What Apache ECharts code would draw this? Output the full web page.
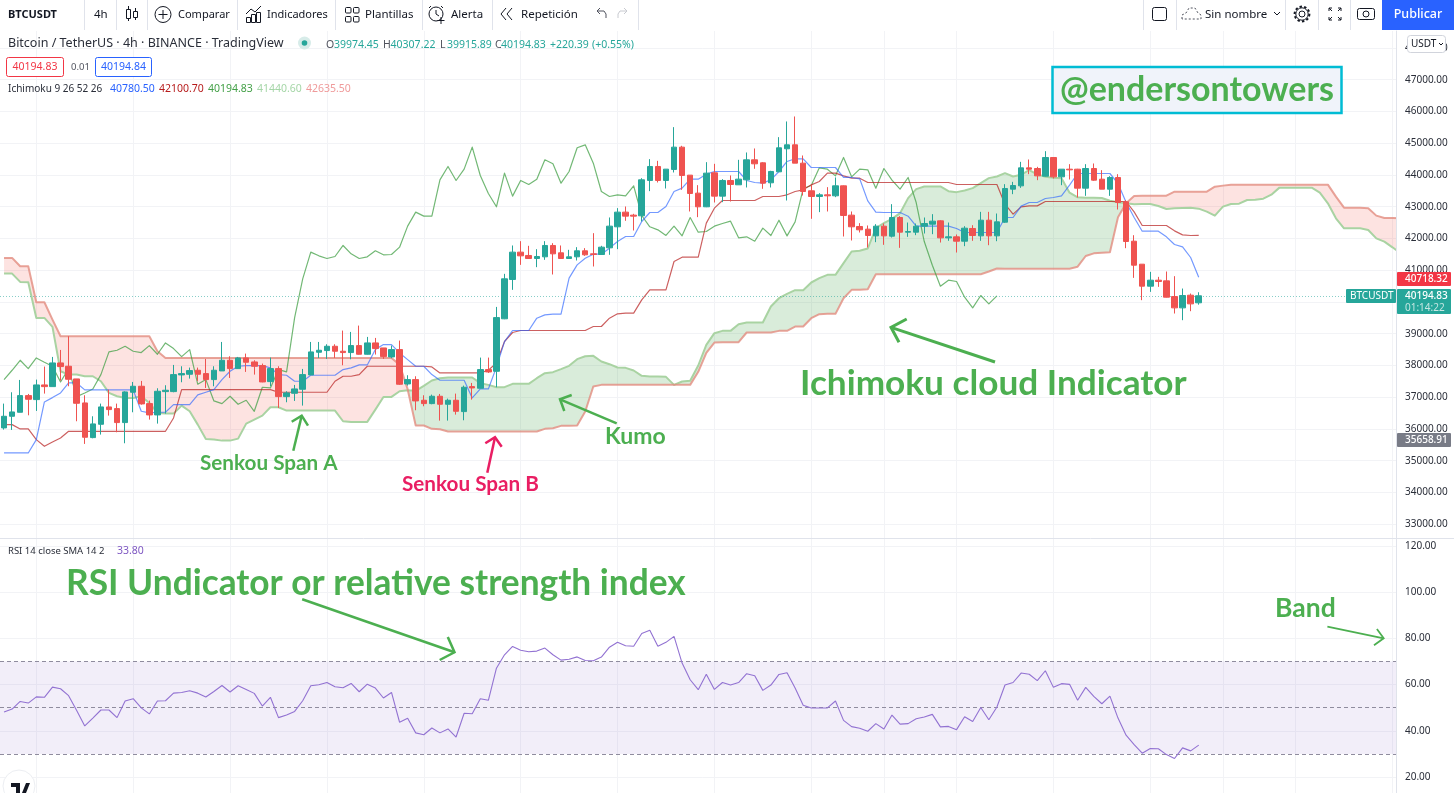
<!DOCTYPE html>
<html><head><meta charset="utf-8">
<style>html,body{margin:0;padding:0;background:#fff}#c{width:1454px;height:793px}</style>
<script src="https://cdn.jsdelivr.net/npm/echarts@6/dist/echarts.min.js"></script>
</head><body><div id="c"></div>
<script>
const opens=[36034,36401,36527,37052,36926,37388,37335,38081,37976,37577,
36821,35729,36149,36695,36642,36202,37157,37346,36800,36443,
37178,37178,37703,37724,37850,37745,37556,37829,38165,37902,
38238,38112,37997,37493,37902,37020,37125,37251,37703,38417,
38470,38606,38449,38407,38627,38354,38711,38553,38270,38501,
37419,37556,36905,36800,37031,36779,36905,36548,37335,37283,
37871,37818,39470,40709,41570,41465,41370,41423,41780,41549,
41370,41423,41612,41517,41496,41706,42368,42830,42735,42714,
43827,44268,43827,44174,44877,43995,43428,42998,44069,43334,
43827,43691,43848,44478,44384,43754,44100,44825,44950,44373,
43502,43323,43375,43344,43659,42735,42378,42294,42083,42388,
42073,42661,42199,42199,42388,42451,42556,42020,42052,41915,
42315,42083,42577,42083,42514,43553,43658,44225,44204,43963,
44551,43942,44183,44183,43585,44204,43868,43553,43921,43154,
41915,41191,40498,40687,40666,40172,39815,40214,39974.45];
const closes=[36401,36537,37052,36936,37388,37335,38081,37966,37566,36810,
35740,36160,36695,36611,36202,37168,37346,36790,36443,37188,
37220,37713,37745,37840,37724,37556,37850,38165,37902,38238,
38102,37976,37482,37902,37020,37136,37262,37713,38428,38480,
38606,38449,38407,38627,38354,38711,38533,38280,38501,37409,
37556,36884,36800,37031,36779,36905,36558,37315,37293,37871,
37797,39509,40730,41570,41454,41370,41433,41780,41517,41370,
41423,41612,41486,41496,41727,42389,42830,42704,42704,43848,
44268,43827,44184,44877,43985,43418,42998,44058,43334,43827,
43701,43869,44478,44352,43743,44111,44856,44950,44373,43480,
43323,43375,43344,43659,42725,42368,42273,42095,42388,42083,
42661,42199,42220,42388,42472,42546,42020,42052,41915,42325,
42094,42577,42083,42524,43574,43669,44225,44183,43973,44551,
43942,44183,44162,43585,44204,43837,43553,43921,43133,41905,
41159,40498,40687,40645,40151,39815,40204,39941,40194.83];
const highs=[36800,37157,37545,37104,37556,37966,38270,38490,38921,37577,
37062,36401,36800,37241,36800,37188,37482,37514,36895,37283,
37378,38018,37976,37934,37934,38207,37976,38742,38291,38270,
38375,38165,38060,38249,37976,37188,37388,37892,38742,38742,
38669,38669,39100,39057,39257,38900,38868,38553,38627,38785,
37693,37661,37062,37083,37104,36957,37115,37367,37451,38249,
38249,39845,40887,41780,41916,41769,41664,41916,41853,41780,
41643,41727,41696,42168,41769,42662,42956,43008,42777,43900,
44499,44446,44184,45507,44919,43995,43680,44404,44352,43869,
43985,44478,44709,44835,44404,44132,45192,45686,45843,44614,
43691,43428,43617,43922,43670,42851,42483,42410,42451,42472,
43081,42703,42503,42472,42661,42766,42577,42503,42126,42388,
42419,42839,42839,42787,43711,43784,44414,44488,44257,44750,
44551,44183,44341,44194,44341,44362,44152,43963,44026,43207,
42104,41191,40949,40792,40960,40813,40424,40267,40307.22];
const lows=[35981,35970,36527,36432,36569,37115,37335,37525,37346,36244,
35530,35708,35824,36422,35897,35551,36527,36768,36296,36170,
36485,37157,37472,37588,37514,37293,37346,37829,37608,37892,
37798,37713,37472,37346,36663,36842,36884,36737,37703,38238,
38207,38238,38007,38196,38344,38344,38344,38207,38228,37388,
37367,36590,36716,36779,36264,36264,36453,36275,36926,37283,
37766,37315,39459,40383,41170,41360,41097,41328,40866,41360,
41360,41307,41454,41118,41486,41486,41664,42557,42252,42536,
43491,43764,43575,44079,43533,42851,42672,42987,43134,43145,
43165,43691,43607,44195,43565,43607,44100,43197,44373,43354,
42620,42830,42851,43302,42063,41937,42189,41717,41884,41800,
42031,41705,42052,42105,42157,42136,41873,41926,41558,41758,
41926,41926,41789,41915,42493,43396,43595,44026,43837,43952,
43889,43679,43858,43291,43343,43816,43553,43343,42913,41695,
40760,40057,40319,40477,40141,39637,39427,39710,39915.89];
const tenkan=[35246,35246,35246,35246,35666,36853,36989,37136,37451,37451,
37231,37231,37231,37231,37231,37231,37231,36558,36506,36527,
36527,36768,36768,36768,37073,37157,37241,37556,37818,37976,
37997,37997,37997,37924,37714,37693,37504,37504,37693,37693,
37693,37693,37871,37924,38018,38018,38501,38659,38659,38396,
38186,37976,37976,37714,37535,37535,37535,37535,36978,37262,
37262,37950,38750,39102,39102,39102,39490,39596,39617,39617,
40750,41170,41380,41506,41506,41696,41906,42063,42063,42536,
42819,42819,43008,43480,43586,43869,43869,44026,44110,44110,
44110,44110,43827,43764,43743,43848,44110,44425,44510,44510,
44236,44236,44236,44236,43922,43922,43880,43186,42830,42818,
42818,42818,42703,42388,42388,42388,42388,42388,42314,42188,
42188,42188,42188,42188,42661,42661,43018,43133,43133,43259,
43291,43343,43679,44047,44047,44047,44047,44047,43732,43144,
42661,42230,42230,42230,42052,41810,41737,41401,40780.5];
const kijun=[36138,36138,36002,36002,35666,35456,35592,35718,35928,35928,
35928,35928,35928,35928,35928,35928,35928,35928,35928,35928,
35928,36348,37241,37241,37241,37241,37241,37241,37241,37241,
37241,37241,37241,37241,37157,37157,37157,37157,37157,37157,
37157,37504,37661,37661,37714,37976,37976,37976,37976,37976,
37976,37976,37976,37955,37766,37766,37766,37766,37766,37766,
37850,38081,38755,39039,39102,39102,39102,39102,39102,39102,
39102,39102,39102,39228,39228,39490,39627,39648,39648,40068,
40383,40383,40383,41276,41412,41412,41412,42483,42955,43197,
43197,43197,43197,43197,43323,43323,43323,43376,43480,43533,
43690,43795,44058,44058,43974,43900,43900,43764,43764,43764,
43764,43764,43764,43764,43764,43764,43764,43764,43700,43700,
43700,43700,43700,43700,43081,42766,42997,43028,43028,43165,
43165,43165,43165,43165,43165,43165,43165,43165,43165,43165,
42839,42409,42409,42409,42409,42241,42115,42094,42100.7];
const spanA=[40895,40895,40632,40622,39498,39498,39215,37818,37714,37714,
37661,37661,37504,37136,37031,36978,36978,37031,36821,36506,
36485,36485,36737,36558,36138,35687,35666,35634,35634,35697,
36170,36296,36422,36685,36685,36579,36579,36579,36579,36579,
36579,36579,36244,36223,36223,36223,36611,37010,37010,37188,
37220,37201,37359,37527,37600,37621,37621,37621,37621,37443,
37390,37317,37317,37422,37422,37422,37600,37758,37790,37884,
37989,38199,38293,38304,38126,38041,37936,37926,37842,37674,
37653,37653,37642,37390,37496,37517,38000,38650,39018,39091,
39091,39301,39354,39354,39354,39858,40120,40257,40373,40373,
40614,40751,40856,40856,41223,41591,41612,41685,42325,42483,
42620,42798,43271,43554,43638,43638,43638,43491,43460,43512,
43586,43743,43901,43953,44058,43953,44006,44157,44020,43947,
43915,43894,43443,43296,43286,43286,43275,43191,43139,43107,
43076,43086,43086,43023,42929,42950,42960,42971,42939,42845,
42720,43003,43087,43098,43213,43223,43255,43381,43602,43602,
43602,43602,43602,43444,43108,42635,42320,42320,42320,42268,
42005,41900,41722,41533];
const spanB=[41388,41388,41126,41126,39992,39992,39446,38921,38921,38921,
38921,38921,38921,38921,38921,38921,38921,38921,38921,38448,
38238,38238,38238,38238,38238,38238,38238,38238,38238,38238,
38238,38238,38238,38238,38238,38238,38238,38238,38238,38238,
38238,38238,38238,38238,38238,38238,38238,38238,38238,38028,
37254,36110,36110,36005,35994,35921,35921,35921,35921,35921,
35921,35921,35921,35921,35921,35921,35921,36005,36026,36099,
36099,36110,36550,37338,37390,37390,37390,37390,37390,37390,
37390,37390,37390,37390,37390,37390,37800,38400,38724,38735,
38735,38735,39039,39039,39039,39039,39091,39091,39228,39228,
39490,39617,39627,39627,40120,40383,40383,40404,40876,40876,
40876,40876,40876,40876,40876,40876,40876,40876,40876,40876,
40876,40876,40960,41055,41050,41050,41050,41050,41050,41050,
41050,41050,41050,41112,41448,41532,41553,41564,42666,43107,
43338,43349,43349,43349,43349,43474,43474,43474,43474,43476,
43633,43665,43696,43696,43696,43696,43696,43696,43696,43696,
43696,43696,43696,43696,43696,43318,42971,42971,42971,42950,
42720,42646,42646,42640];
const rsi=[48.1,49.4,52.7,52.0,54.7,54.5,58.9,58.2,55.2,48.8,
42.1,45.5,49.0,49.0,45.7,52.9,53.9,49.9,47.3,52.9,
53.0,56.3,56.6,57.3,56.3,54.6,57.0,59.6,56.8,59.5,
57.9,56.2,50.7,54.5,45.7,46.8,48.4,53.0,59.5,59.9,
60.9,59.1,58.6,60.5,56.9,60.2,58.5,54.2,56.6,43.7,
45.4,39.1,38.3,41.2,39.1,40.8,37.3,47.6,47.4,53.9,
53.2,67.1,72.9,76.5,74.9,74.2,74.5,75.8,72.9,70.6,
71.0,72.0,70.4,70.3,71.9,76.2,78.3,76.8,76.6,82.1,
83.5,76.6,78.3,80.9,69.3,62.1,57.8,
64.5,57.9,60.9,59.8,60.9,64.7,63.8,57.5,59.8,64.4,
65.1,58.5,51.1,49.9,49.9,49.9,52.9,44.5,41.8,41.1,
39.8,43.1,40.8,46.8,42.9,43.1,45.2,46.0,47.1,41.7,
41.9,40.5,46.1,44.0,50.1,44.8,50.3,59.8,60.9,65.0,
64.5,61.7,66.0,58.8,60.4,60.1,53.2,58.8,54.9,51.7,
55.0,45.5,38.1,34.0,30.3,32.3,32.2,29.7,28.0,32.6,
31.3,33.8];
const priceTicks=[33000,34000,35000,36000,37000,38000,39000,40000,41000,42000,43000,44000,45000,46000,47000,48000];
const rsiTicks=[20,40,60,80,100,120];
const rsiLevels=[70,50,30];
const gridBars=[4,16,28,40,52,64,76,88,100,109,118,130,142,151,160,172];
const lastPrice=40194.83;
const chikouShift=25;
const barCount=174;

const categories=Array.from({length:barCount},(_,i)=>String(i));
const candles=opens.map((o,i)=>[o,closes[i],lows[i],highs[i]]);
const chikou=closes.slice(chikouShift);

const F='"Noto Sans",sans-serif';
const GRID='#f2f3f6', SEP='#e0e3eb', INK='#131722', TEAL='#26a69a', RED='#ef5350', GREEN='#4caf50';
const T=(text,x,y,o={})=>({type:'text',z:o.z||52,silent:true,style:{text,x,y,fill:o.c||INK,
  font:`${o.w||400} ${o.s||12}px ${o.f||F}`,textAlign:o.a||'left',verticalAlign:'middle',textVerticalAlign:'middle'}});
const R=(x,y,w,h,fill,o={})=>({type:'rect',z:o.z||50,silent:true,shape:{x,y,width:w,height:h,r:o.r||0},
  style:{fill:fill,stroke:o.s||null,lineWidth:o.lw||1}});
const L=(pts,o={})=>({type:'polyline',z:o.z||51,silent:true,shape:{points:pts},
  style:{stroke:o.c||INK,lineWidth:o.w||1,fill:null,lineDash:o.d||null}});
const C=(cx,cy,r,o={})=>({type:'circle',z:o.z||51,silent:true,shape:{cx,cy,r},
  style:{stroke:o.c||INK,lineWidth:o.w||1,fill:o.f||null,lineDash:o.d||null}});
const arrow=(tail,tip,h1,h2,c,w)=>[L([tail,tip],{c,w,z:32}),L([h1,tip,h2],{c,w,z:32})];

const g=[];
g.push(R(1397,31,57,762,'#fff',{z:20}));
g.push(R(0,0,1454,30,'#fff'));
[84,116,147,237,335,422,492,638,1143,1176,1285,1318,1350].forEach(x=>g.push(L([[x+.5,0],[x+.5,30]],{c:SEP})));
g.push(T('BTCUSDT',8,14.5,{w:700,s:11}));
g.push(T('4h',94,14.5,{s:11.5}));
g.push(L([[128.5,6],[128.5,21]]),R(126.5,9.5,4,9,'#fff',{s:INK,z:52}),L([[135.5,8],[135.5,20]]),R(133.5,11.5,4,6,'#fff',{s:INK,z:52}));
g.push(C(163,14.5,8),L([[163,10],[163,19]]),L([[158.5,14.5],[167.5,14.5]]));
g.push(T('Comparar',178,14.5,{s:11}));
g.push(L([[246,14],[251,9],[255,12],[261,6]]),R(246.5,17.5,4,5,'#fff',{s:INK,z:52}),R(251.5,14.5,4,8,'#fff',{s:INK,z:52}),R(256.5,12.5,4,10,'#fff',{s:INK,z:52}));
g.push(T('Indicadores',267,14.5,{s:11}));
[[345,7],[353,7],[345,16],[353,16]].forEach(p=>g.push(R(p[0]+.5,p[1]+.5,5.5,5.5,'#fff',{s:INK,r:1,z:52})));
g.push(T('Plantillas',365,14.5,{s:11.5}));
g.push(C(436,14,7),L([[436,10],[436,14],[439,16]]),L([[431,6],[429,8]]),L([[441,6],[443,8]]),L([[441,17],[441,24]]),L([[437.5,20.5],[444.5,20.5]]));
g.push(T('Alerta',451,14.5,{s:11.5}));
g.push(L([[506,8],[501,14],[506,20]]),L([[512,8],[507,14],[512,20]]));
g.push(T('Repetición',521,14.5,{s:11.5}));
g.push(L([[597,11],[600,14]],{c:'#50535e'}),L([[597,11],[600,8]],{c:'#50535e'}),L([[597,11],[604,11],[606,14],[606,18]],{c:'#50535e'}));
g.push(L([[627,11],[624,14]],{c:'#c8cad0'}),L([[627,11],[624,8]],{c:'#c8cad0'}),L([[627,11],[620,11],[618,14],[618,18]],{c:'#c8cad0'}));
g.push(R(1152.5,7.5,14,13,'#fff',{s:INK,r:2,z:52}));
g.push(L([[1182,19],[1182,15],[1186,13],[1189,8],[1195,8],[1198,13],[1201,15],[1201,19],[1182,19]],{d:[2,2],c:'#50535e'}));
g.push(T('Sin nombre',1205,14.5,{s:11.5}));
g.push(L([[1274,12],[1277,15],[1280,12]]));
g.push(C(1302,14,3),C(1302,14,6.2),C(1302,14,7.4,{w:2,d:[2.4,2.2]}));
[[1329,8,1,1],[1341,8,-1,1],[1329,20,1,-1],[1341,20,-1,-1]].forEach(p=>g.push(L([[p[0],p[1]+3*p[3]],[p[0],p[1]],[p[0]+3*p[2],p[1]]]),L([[p[0],p[1]],[p[0]+3*p[2],p[1]+3*p[3]]])));
g.push(R(1357.5,8.5,17,11,'#fff',{s:INK,r:2,z:52}),C(1366,14,3,{z:53}));
g.push(R(1382,0,72,30,'#2962ff'));
g.push(T('Publicar',1418,14.5,{s:12.5,c:'#fff',a:'center',w:500}));
g.push(T('Bitcoin / TetherUS · 4h · BINANCE · TradingView',8,43,{s:12.5,c:'#2a2e39'}));
g.push(C(304.5,43,6.5,{c:'transparent',f:'#d7ece9'}),C(304.5,43,2.8,{c:'transparent',f:TEAL,z:52}));
[['O',326,'39974.45',334],['H',383,'40307.22',390.6],['L',440,'39915.89',447],['C',495,'40194.83',501]].forEach(a=>{
  g.push(T(a[0],a[1],45,{s:10.5,c:'#50535e'}),T(a[2],a[3],45,{s:10.5,c:TEAL}));});
g.push(T('+220.39',550,45,{s:10.5,c:TEAL}),T('(+0.55%)',592,45,{s:10.5,c:TEAL}));
g.push(R(6.5,57.5,57,19,'#fff',{s:'#f23645',r:2}),T('40194.83',35,67,{s:10.5,c:'#f23645',a:'center'}));
g.push(T('0.01',71,67,{s:9.5,c:'#50535e'}));
g.push(R(95.5,57.5,56,19,'#fff',{s:'#2962ff',r:2}),T('40194.84',123.5,67,{s:10.5,c:'#2962ff',a:'center'}));
g.push(T('Ichimoku 9 26 52 26',8,89.5,{s:10,c:'#2a2e39'}));
[['40780.50',110,'#2962ff'],['42100.70',159,'#b71c1c'],['40194.83',208,'#43a047'],['41440.60',257,'#a5d6a7'],['42635.50',306,'#ef9a9a']].forEach(a=>g.push(T(a[0],a[1],89.5,{s:10.5,c:a[2]})));
g.push(T('RSI 14 close SMA 14 2',8,551,{s:9.5,c:'#2a2e39'}),T('33.80',117,551,{s:10.5,c:'#7e57c2'}));
g.push(R(1407.5,35.5,38,17,'#fff',{s:'#d1d4dc',r:3}));
g.push(T('USDT',1411,44,{s:10,c:'#131722'}),L([[1439,43],[1441,45],[1443,43]],{z:52}));
g.push(R(1397,272,54,14,'#f23645',{r:1}),T('40718.32',1405,279.5,{s:10,c:'#fff',w:500}));
g.push(R(1346,289,50,14,TEAL,{r:1}),T('BTCUSDT',1350,296.5,{s:10,c:'#fff'}));
g.push(R(1397,289,54,25,TEAL,{r:1}),T('40194.83',1405,296.5,{s:10,c:'#fff',w:500}),T('01:14:22',1405,308,{s:10,c:'#c5e6e2'}));
g.push(R(1397,433,54,14,'#787b86',{r:1}),T('35658.91',1405,440.5,{s:10,c:'#fff',w:500}));
g.push(L([[0,538.5],[1454,538.5]],{c:SEP,z:21}));
g.push(R(1052.5,67,289,46,'#f0f3fa',{s:'#00bcd4',lw:2.5,z:30}));
const AF='Lato,"Noto Sans",sans-serif';
g.push(T('@endersontowers',1197,90,{s:34,w:700,c:GREEN,a:'center',z:33,f:AF}));
g.push(T('Ichimoku cloud Indicator',800,384,{s:35.2,w:700,c:GREEN,z:33,f:AF}));
g.push(T('Kumo',605,437,{s:23,w:700,c:GREEN,z:33,f:AF}));
g.push(T('Senkou Span A',200,463,{s:20.7,w:700,c:GREEN,z:33,f:AF}));
g.push(T('Senkou Span B',402,484,{s:20.7,w:700,c:'#e91e63',z:33,f:AF}));
g.push(T('RSI Undicator or relative strength index',66,584,{s:35.3,w:700,c:GREEN,z:33,f:AF}));
g.push(T('Band',1275,608,{s:26.5,w:700,c:GREEN,z:33,f:AF}));
g.push(...arrow([293.3,450.7],[301.7,415.7],[291.7,421.7],[308,425.7],GREEN,2.5));
g.push(...arrow([487.3,472.7],[495,437.3],[485.3,443.3],[501.7,446.7],'#e91e63',2.5));
g.push(...arrow([616.7,423.3],[560,399.3],[571.7,395],[564.3,411],GREEN,2.5));
g.push(...arrow([995,362],[891,327.3],[906.7,319],[899,342.3],GREEN,3));
g.push(...arrow([302.2,599.3],[454.5,652.3],[447.8,637],[439.7,660],GREEN,2.5));
g.push(...arrow([1327.4,626.7],[1383.7,638.3],[1376.9,629],[1374,645.3],GREEN,1.8));
g.push(C(19,786,16,{c:'#eceef2',f:'#fff',z:31}));
g.push({type:'polygon',z:32,silent:true,shape:{points:[[11,783],[20,783],[20,793],[16,793],[16,787],[11,787]]},style:{fill:'#131722'}});
g.push({type:'polygon',z:32,silent:true,shape:{points:[[22,793],[26,783],[30,783],[26,793]]},style:{fill:'#131722'}});

function cloudItem(params,api){
  const pa=spanA.map((v,i)=>api.coord([i,v])), pb=spanB.map((v,i)=>api.coord([i,v]));
  const runs=[]; let up=null,topR=[],botR=[];
  const close=()=>{ if(topR.length>1) runs.push({up,pts:topR.concat(botR.slice().reverse())}); };
  for(let i=0;i<spanA.length;i++){
    const d=spanA[i]-spanB[i], s=d>=0;
    if(up===null){up=s;}
    if(s!==up){
      const dp=spanA[i-1]-spanB[i-1], t=dp/(dp-d);
      const X=pa[i-1][0]+(pa[i][0]-pa[i-1][0])*t, Y=pa[i-1][1]+(pa[i][1]-pa[i-1][1])*t;
      topR.push([X,Y]); botR.push([X,Y]); close();
      up=s; topR=[[X,Y]]; botR=[[X,Y]];
    }
    topR.push(pa[i]); botR.push(pb[i]);
  }
  close();
  return {type:'group',children:runs.map(r=>({type:'polygon',shape:{points:r.pts},
    style:{fill:r.up?'rgba(67,160,71,0.2)':'rgba(244,67,54,0.15)',stroke:null}}))};
}
const tickLabels=c=>({show:true,customValues:c,margin:9,color:'#2a2e39',fontSize:10,fontFamily:F,formatter:v=>Number(v).toFixed(2)});
const gridX=i=>({type:'category',gridIndex:i,data:categories,axisLine:{show:false},axisTick:{show:false},axisLabel:{show:false},
  splitLine:{show:true,alignWithLabel:true,interval:(n)=>gridBars.indexOf(n)>=0,lineStyle:{color:GRID,width:1}}});
const PMIN=32567,PMAX=48535,RMIN=13.07,RMAX=123.03;
const gridY=(i,min,max,t)=>({type:'value',gridIndex:i,min,max,position:'right',scale:true,axisLine:{show:false},
  axisTick:{show:false,customValues:t},axisLabel:{show:false},splitLine:{show:true,lineStyle:{color:GRID,width:1}}});
const labelY=(i,min,max,t)=>({type:'value',gridIndex:i,min,max,position:'right',offset:-8.56,z:40,
  axisLine:{show:true,onZero:false,lineStyle:{color:SEP,width:1}},axisTick:{show:false,customValues:t},axisLabel:tickLabels(t),splitLine:{show:false}});
const line=(name,data,color,width,z)=>({name,type:'line',data,xAxisIndex:0,yAxisIndex:0,symbol:'none',z,silent:true,
  lineStyle:{color,width,join:'round'},itemStyle:{color},animation:false});

const option={
  animation:false,backgroundColor:'#fff',
  grid:[{left:-1.34,top:31,width:1405.9,height:507,containLabel:false},{left:-1.34,top:539,width:1405.9,height:254,containLabel:false}],
  xAxis:[gridX(0),gridX(1)],
  yAxis:[gridY(0,PMIN,PMAX,priceTicks),gridY(1,RMIN,RMAX,rsiTicks),labelY(0,PMIN,PMAX,priceTicks),labelY(1,RMIN,RMAX,rsiTicks)],
  series:[
    {name:'Kumo',type:'custom',renderItem:cloudItem,data:[[0,spanA[0]]],encode:{x:0,y:1},xAxisIndex:0,yAxisIndex:0,z:1,silent:true,clip:true},
    line('Senkou Span A',spanA,'#a9d3a2',2,2),
    line('Senkou Span B',spanB,'rgba(226,140,128,0.8)',2,2),
    line('Chikou Span',chikou,'rgba(67,160,71,0.75)',1.2,3),
    line('Kijun Sen',kijun,'rgba(183,28,28,0.7)',1.2,3),
    line('Tenkan Sen',tenkan,'rgba(41,98,255,0.65)',1.2,3),
    {name:'BTCUSDT',type:'candlestick',data:candles,xAxisIndex:0,yAxisIndex:0,barWidth:6,z:5,silent:true,
      itemStyle:{color:TEAL,color0:RED,borderColor:TEAL,borderColor0:RED,borderWidth:1},
      markLine:{silent:true,symbol:'none',label:{show:false},z:4,animation:false,
        lineStyle:{color:'rgba(38,166,154,0.55)',type:[1,2],width:1},data:[{yAxis:lastPrice}]}},
    {name:'RSI',type:'line',data:rsi,xAxisIndex:1,yAxisIndex:1,symbol:'none',z:5,silent:true,
      lineStyle:{color:'#9272d2',width:1.1},
      markArea:{silent:true,itemStyle:{color:'rgba(126,87,194,0.1)'},data:[[{yAxis:rsiLevels[2]},{yAxis:rsiLevels[0]}]]},
      markLine:{silent:true,symbol:'none',label:{show:false},animation:false,
        lineStyle:{color:'#8f8c9e',type:[4,3],width:1},data:rsiLevels.map(v=>({yAxis:v}))}}
  ],
  graphic:{elements:g}
};
const chart=echarts.init(document.getElementById('c'),null,{renderer:'canvas'});
chart.setOption(option);
</script></body></html>
